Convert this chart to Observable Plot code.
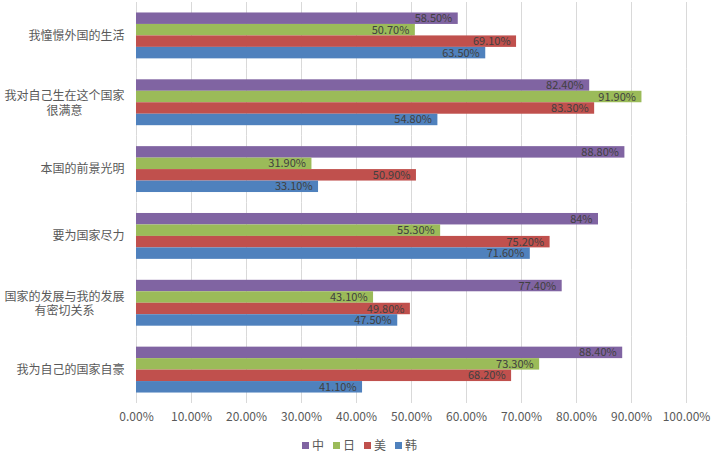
<!DOCTYPE html>
<html>
<head>
<meta charset="utf-8">
<script src="https://cdn.jsdelivr.net/npm/d3@7"></script>
<script src="https://cdn.jsdelivr.net/npm/@observablehq/plot@0.6"></script>
<style>
  body { margin: 0; background: #fff; font-family: "Noto Sans CJK SC", "Noto Sans", sans-serif; }
  #legend { display: flex; justify-content: center; gap: 9px; margin-top: 8px; font-size: 12px; color: #595959; line-height: 14px; }
  #legend .item { display: flex; align-items: center; }
  #legend .sw { width: 7px; height: 7px; margin-right: 3px; display: inline-block; }
</style>
</head>
<body>
<div id="chart"></div>
<div id="legend"></div>
<script>
const categories = [
  "我憧憬外国的生活",
  "我对自己生在这个国家\n很满意",
  "本国的前景光明",
  "要为国家尽力",
  "国家的发展与我的发展\n有密切关系",
  "我为自己的国家自豪"
];
const countries = ["中", "日", "美", "韩"];
const china = [58.5, 82.4, 88.8, 84, 77.4, 88.4];
const japan = [50.7, 91.9, 31.9, 55.3, 43.1, 73.3];
const usa   = [69.1, 83.3, 50.9, 75.2, 49.8, 68.2];
const korea = [63.5, 54.8, 33.1, 71.6, 47.5, 41.1];
const colors = ["#8064A2", "#9BBB59", "#C0504D", "#4F81BD"];
const xTicks = [0, 10, 20, 30, 40, 50, 60, 70, 80, 90, 100];

const series = [china, japan, usa, korea];
const rows = categories.flatMap((c, i) =>
  countries.map((k, j) => ({category: c, country: k, value: series[j][i]}))
);
const fmt = v => Number.isInteger(v) ? v + "%" : v.toFixed(2) + "%";
const single = categories.filter(c => !c.includes("\n"));
const multi = categories.filter(c => c.includes("\n"));

const chart = Plot.plot({
  width: 719,
  height: 430,
  marginTop: 2,
  marginBottom: 27,
  marginLeft: 136,
  marginRight: 33,
  style: {fontFamily: "'Noto Sans CJK SC', 'Noto Sans', sans-serif", fontSize: "12px", color: "#595959", background: "#fff"},
  x: {domain: [0, 100], ticks: xTicks, tickFormat: d => d.toFixed(2) + "%", tickSize: 0, tickPadding: 9, label: null},
  y: {domain: countries, axis: null, paddingInner: 0, paddingOuter: 0.913, round: false},
  fy: {domain: categories, axis: null, padding: 0, round: false},
  color: {domain: countries, range: colors},
  marks: [
    Plot.gridX(xTicks, {stroke: "#d9d9d9", strokeOpacity: 1, strokeWidth: 1}),
    Plot.barX(rows, {x: "value", y: "country", fy: "category", fill: "country"}),
    Plot.text(rows, {x: "value", y: "country", fy: "category", text: d => fmt(d.value), textAnchor: "end", dx: -6, fill: "#404040", fontSize: 11}),
    Plot.text(single, {fy: d => d, text: d => d, frameAnchor: "left", textAnchor: "end", dx: -12, fill: "#595959"}),
    Plot.text(multi, {fy: d => d, text: d => d, frameAnchor: "left", textAnchor: "middle", dx: -72, lineHeight: 1.2, fill: "#595959"})
  ]
});
document.getElementById("chart").appendChild(chart);

const legend = document.getElementById("legend");
countries.forEach((k, i) => {
  const item = document.createElement("span");
  item.className = "item";
  const sw = document.createElement("span");
  sw.className = "sw";
  sw.style.background = colors[i];
  item.appendChild(sw);
  item.appendChild(document.createTextNode(k));
  legend.appendChild(item);
});
</script>
</body>
</html>
